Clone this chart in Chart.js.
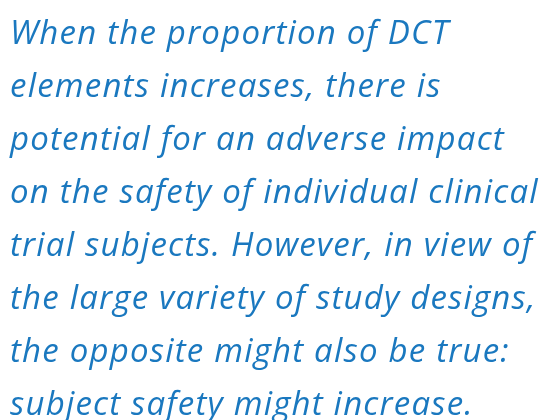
<!DOCTYPE html>
<html>
<head>
<meta charset="utf-8">
<script src="https://cdn.jsdelivr.net/npm/chart.js@4.4.0/dist/chart.umd.min.js"></script>
<style>
  html, body { margin: 0; padding: 0; background: #ffffff; }
  #wrap { position: relative; width: 543px; height: 420px; }
</style>
</head>
<body>
<div id="wrap"><canvas id="quoteChart"></canvas></div>
<script>
// quote text, one entry per line as set in the original
const textLines = [
    "When the proportion of DCT",
    "elements increases, there is",
    "potential for an adverse impact",
    "on the safety of individual clinical",
    "trial subjects. However, in view of",
    "the large variety of study designs,",
    "the opposite might also be true:",
    "subject safety might increase."
];
const categories = [];
const values = [];

// the original face is tracked a little wider than Open Sans
const tracking = {
    id: "tracking",
    beforeDraw(chart) {
        chart.ctx.letterSpacing = "1.2px";
    }
};

document.addEventListener("DOMContentLoaded", () => {
    const ctx = document.getElementById("quoteChart").getContext("2d");
    new Chart(ctx, {
        type: "bar",
        data: {
            labels: categories,
            datasets: [{ data: values }]
        },
        options: {
            responsive: true,
            maintainAspectRatio: false,
            animation: false,
            layout: { padding: { left: 10, top: 0, right: 0, bottom: 0 } },
            scales: {
                x: { display: false },
                y: { display: false }
            },
            plugins: {
                legend: { display: false },
                tooltip: { enabled: false },
                title: {
                    display: true,
                    text: textLines,
                    align: "start",
                    color: "#1a78bf",
                    padding: { top: 8, bottom: 0 },
                    font: { family: "Open Sans", style: "italic", weight: "normal", size: 33, lineHeight: 1.606 }
                }
            }
        },
        plugins: [tracking]
    });
});
</script>
</body>
</html>
